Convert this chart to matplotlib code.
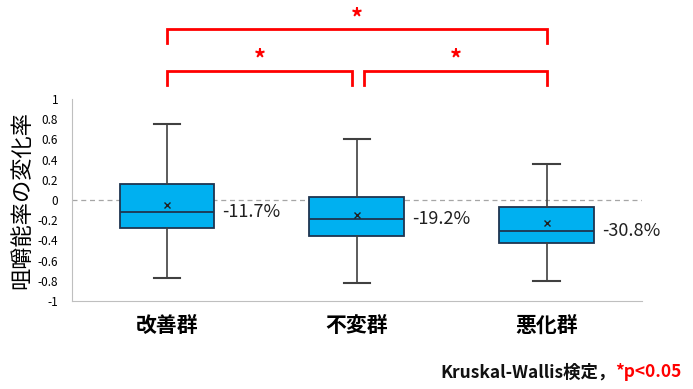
import matplotlib
matplotlib.use("Agg")
import matplotlib.pyplot as plt
from matplotlib.transforms import blended_transform_factory

plt.rcParams['font.family'] = ['Noto Sans CJK JP', 'DejaVu Sans']

categories = ["改善群", "不変群", "悪化群"]
whisker_low = [-0.77, -0.82, -0.80]
q1 = [-0.28, -0.36, -0.425]
median = [-0.12, -0.19, -0.31]
q3 = [0.155, 0.03, -0.07]
whisker_high = [0.75, 0.60, 0.36]
means = [-0.05, -0.145, -0.23]
pct_labels = ["-11.7%", "-19.2%", "-30.8%"]
yticks = [1, 0.8, 0.6, 0.4, 0.2, 0, -0.2, -0.4, -0.6, -0.8, -1]
ytick_labels = ["1", "0.8", "0.6", "0.4", "0.2", "0", "-0.2", "-0.4", "-0.6", "-0.8", "-1"]
ylabel = "咀嚼能率の変化率"
footnote_black = "Kruskal-Wallis検定，"
footnote_red = "*p<0.05"

fig = plt.figure(figsize=(6.93, 3.89), dpi=100)
ax = fig.add_axes([0.104, 0.226, 0.822, 0.5195])

stats = []
for i in range(len(categories)):
    stats.append(dict(med=median[i], q1=q1[i], q3=q3[i], whislo=whisker_low[i],
                      whishi=whisker_high[i], mean=means[i], fliers=[], label=categories[i]))

pos = list(range(len(categories)))
edge = '#1f3550'
ax.bxp(stats, positions=pos, widths=0.5, patch_artist=True, showmeans=True,
       capwidths=0.14,
       boxprops=dict(facecolor='#00b0f0', edgecolor=edge, linewidth=1.3),
       medianprops=dict(color=edge, linewidth=1.3),
       whiskerprops=dict(color='#404040', linewidth=1.2),
       capprops=dict(color='#404040', linewidth=1.5),
       meanprops=dict(marker='x', markeredgecolor='#202020', markersize=4.5, markeredgewidth=1.0))

ax.set_xlim(-0.5, 2.5)
ax.set_ylim(-1, 1)
ax.axhline(0, color='#a6a6a6', linestyle=(0, (4, 3)), linewidth=0.9, zorder=0)

for i, lab in enumerate(pct_labels):
    ax.text(pos[i] + 0.29, median[i], lab, ha='left', va='center', fontsize=13, color='#202020')

ax.set_yticks(yticks)
ax.set_yticklabels(ytick_labels, fontsize=8.5)
ax.set_xticks(pos)
ax.set_xticklabels(categories, fontsize=15, fontweight='bold')
ax.tick_params(axis='both', length=0)
ax.tick_params(axis='x', pad=10)
ax.tick_params(axis='y', pad=10)
for s in ['top', 'right']:
    ax.spines[s].set_visible(False)
for s in ['left', 'bottom']:
    ax.spines[s].set_color('#bfbfbf')
    ax.spines[s].set_linewidth(0.8)
ax.set_ylabel(ylabel, fontsize=16)
ax.yaxis.set_label_coords(-0.068, 0.5)

# significance brackets
tr = blended_transform_factory(ax.transData, ax.transAxes)
red = '#ff0000'
def bracket(x0, x1, ytop, ybot, star_y):
    ax.plot([x0, x0, x1, x1], [ybot, ytop, ytop, ybot], color=red, lw=2.0,
            transform=tr, clip_on=False, solid_joinstyle='miter')
    ax.text((x0 + x1) / 2, star_y, "*", color=red, fontsize=17, fontweight='bold',
            ha='center', va='center', transform=tr)

bracket(0, 2, 1.347, 1.277, 1.40)
bracket(0, 0.975, 1.141, 1.069, 1.195)
bracket(1.04, 2, 1.141, 1.069, 1.195)

t1 = fig.text(0.635, 0.02, footnote_black, fontsize=12.5, fontweight='bold', color='#111111',
              ha='left', va='bottom')
fig.canvas.draw()
bb = t1.get_window_extent()
x_end = fig.transFigure.inverted().transform((bb.x1, bb.y0))[0]
fig.text(x_end, 0.02, footnote_red, fontsize=12.5, fontweight='bold', color=red, ha='left', va='bottom')

fig.savefig("out.png", dpi=100)
